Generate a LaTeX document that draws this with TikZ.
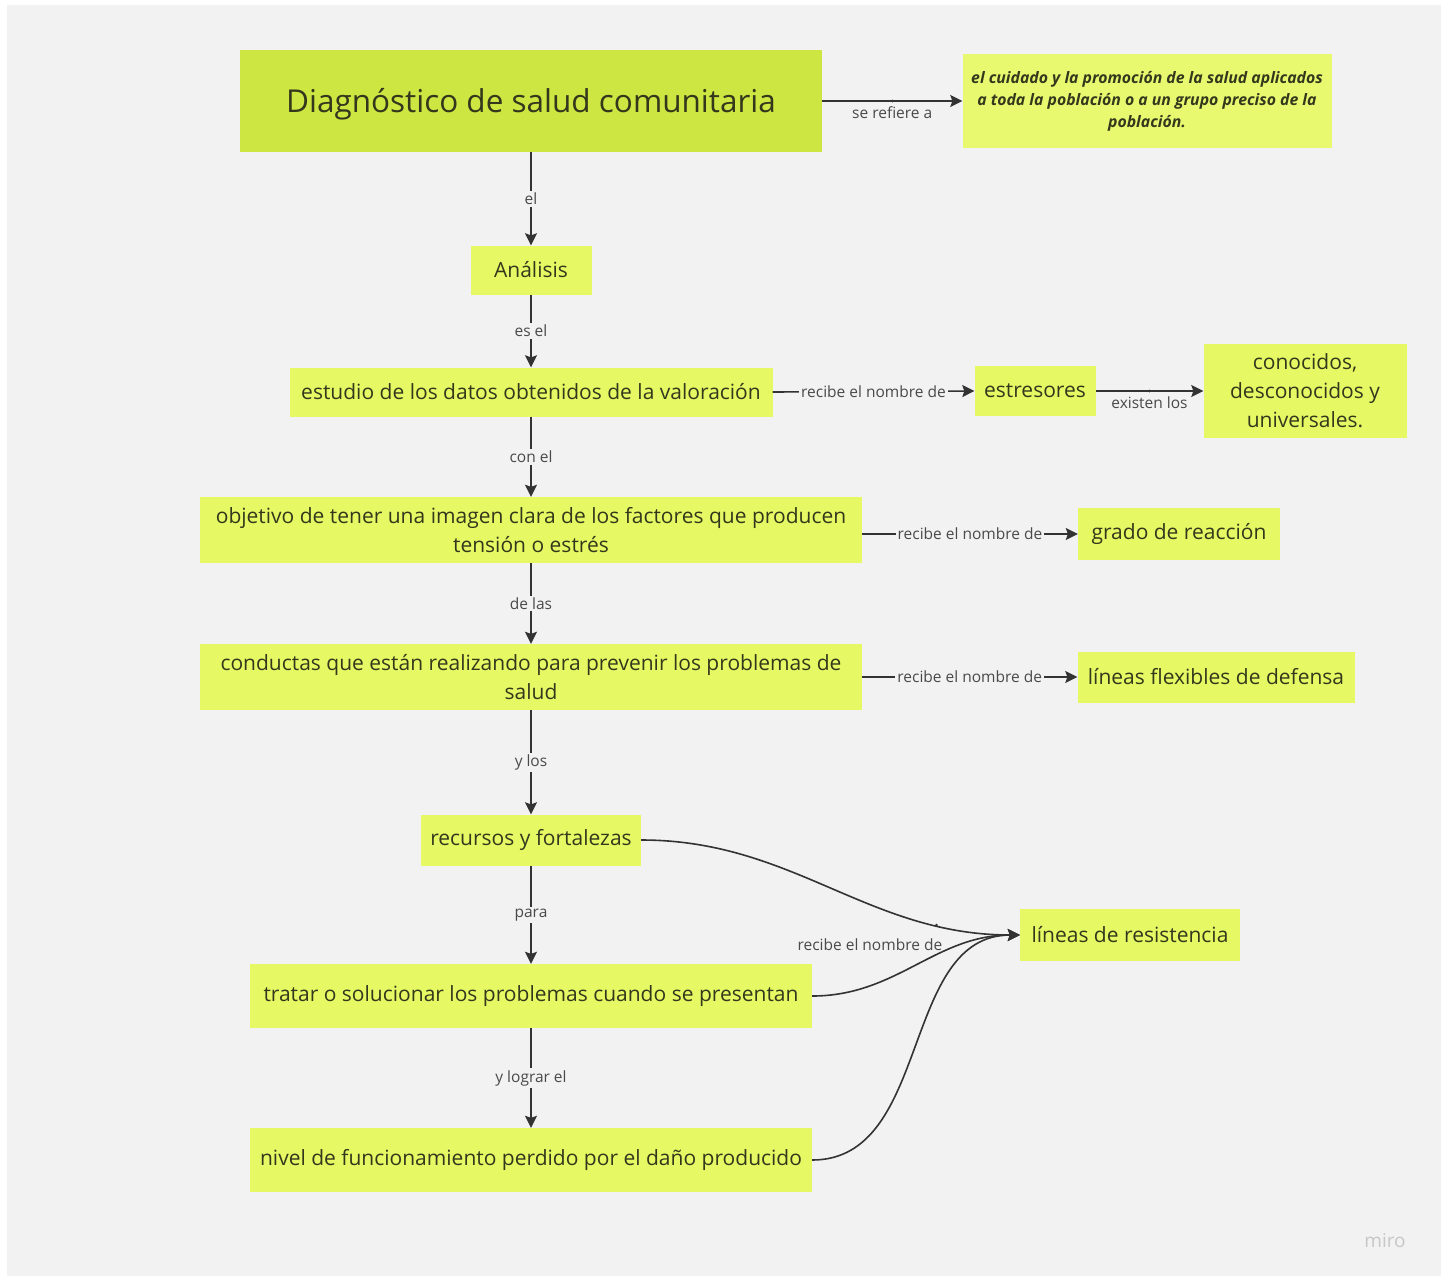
\documentclass[tikz,border=0pt]{standalone}
\usepackage{fontspec}
\setmainfont{Open Sans}
\usetikzlibrary{arrows.meta,positioning}

\definecolor{bggray}{HTML}{F2F2F2}
\definecolor{titlelime}{HTML}{CDE642}
\definecolor{boxlime}{HTML}{E6F964}
\definecolor{ink}{HTML}{33381C}
\definecolor{linkgray}{HTML}{333333}
\definecolor{labelgray}{HTML}{4A4A4A}

\tikzset{
  concept/.style={fill=boxlime, text=ink, align=center, inner sep=0pt,
    font=\fontsize{21}{29}\selectfont},
  link/.style={draw=linkgray, line width=1.6pt,
    -{Stealth[length=12pt,width=12pt,inset=2pt]}},
  linklabel/.style={fill=bggray, text=labelgray, inner sep=2pt,
    font=\fontsize{15.5}{17}\selectfont},
  dotmark/.style={circle, fill=linkgray, inner sep=0pt, minimum size=3pt},
}

\begin{document}
\begin{tikzpicture}[x=1pt, y=-1pt]
  \fill[white] (0,0) rectangle (1447,1277);
  \fill[bggray] (7,5) rectangle (1441,1276);
  \useasboundingbox (0,0) rectangle (1447,1277);

  % main column
  \node[concept, fill=titlelime, minimum width=582pt, minimum height=102pt,
    text depth=2pt, font=\fontsize{31.5}{36}\selectfont] (diag) at (531,101) {Diagnóstico de salud comunitaria};
  \node[concept, minimum width=121pt, minimum height=49pt] (analisis) at (531,270) {Análisis};
  \node[concept, minimum width=483pt, minimum height=49pt] (estudio) at (531,392) {estudio de los datos obtenidos de la valoración};
  \node[concept, minimum width=662pt, minimum height=66pt] (objetivo) at (531,530)
    {objetivo de tener una imagen clara de los factores que producen\\tensión o estrés};
  \node[concept, minimum width=662pt, minimum height=66pt] (conductas) at (531,677)
    {conductas que están realizando para prevenir los problemas de\\salud};
  \node[concept, minimum width=220pt, minimum height=51pt] (recursos) at (531,840) {recursos y fortalezas};
  \node[concept, minimum width=562pt, minimum height=64pt] (tratar) at (531,996) {tratar o solucionar los problemas cuando se presentan};
  \node[concept, minimum width=562pt, minimum height=64pt] (nivel) at (531,1160) {nivel de funcionamiento perdido por el daño producido};

  % right side
  \node[concept, fill=boxlime!92!white, minimum width=369pt, minimum height=94pt,
    font=\fontsize{15.8}{22}\bfseries\itshape\selectfont] (def) at (1147,101)
    {el cuidado y la promoción de la salud aplicados\\a toda la población o a un grupo preciso de la\\población.};
  \node[concept, minimum width=121pt, minimum height=50pt] (estres) at (1035,391) {estresores};
  \node[concept, minimum width=203pt, minimum height=94pt] (tipos) at (1305,391)
    {conocidos,\\desconocidos y\\universales.};
  \node[concept, minimum width=202pt, minimum height=52pt] (grado) at (1179,534) {grado de reacción};
  \node[concept, minimum width=277pt, minimum height=51pt] (flexibles) at (1216,677) {líneas flexibles de defensa};
  \node[concept, minimum width=220pt, minimum height=52pt] (resist) at (1130,935) {líneas de resistencia};

  % links down the column
  \draw[link] (diag) to node[linklabel] {el} (analisis);
  \draw[link] (analisis) to node[linklabel] {es el} (estudio);
  \draw[link] (estudio) to node[linklabel] {con el} (objetivo);
  \draw[link] (objetivo) to node[linklabel] {de las} (conductas);
  \draw[link] (conductas) to node[linklabel] {y los} (recursos);
  \draw[link] (recursos) to node[linklabel] {para} (tratar);
  \draw[link] (tratar) to node[linklabel] {y lograr el} (nivel);

  % links to the right
  \draw[link] (diag.east |- def) to node[dotmark] {} node[linklabel, below=3pt] {se refiere a} (def.west);
  \draw[link] (estudio.east) to node[linklabel] {recibe el nombre de} (estres.west);
  \draw[link] (estres.east) to node[dotmark] {} node[linklabel, below=3pt] {existen los} (tipos.west);
  \draw[link] (objetivo.east |- grado) to node[linklabel] {recibe el nombre de} (grado.west);
  \draw[link] (conductas.east) to node[linklabel] {recibe el nombre de} (flexibles.west);

  % curves into resistencia
  \draw[link] (recursos.east) to[out=0, in=180] node[pos=0.8, dotmark] {} (resist.west);
  \draw[link] (tratar.east) to[out=0, in=180]
    node[pos=0.65, anchor=south east, inner sep=1pt, text=labelgray,
      font=\fontsize{15.5}{17}\selectfont] {recibe el nombre de} (resist.west);
  \draw[link] (nivel.east) to[out=0, in=180] (resist.west);

  \node[text=black!22, font=\fontsize{19}{20}\selectfont] (miro) at (1385,1241) {miro};
\end{tikzpicture}
\end{document}
